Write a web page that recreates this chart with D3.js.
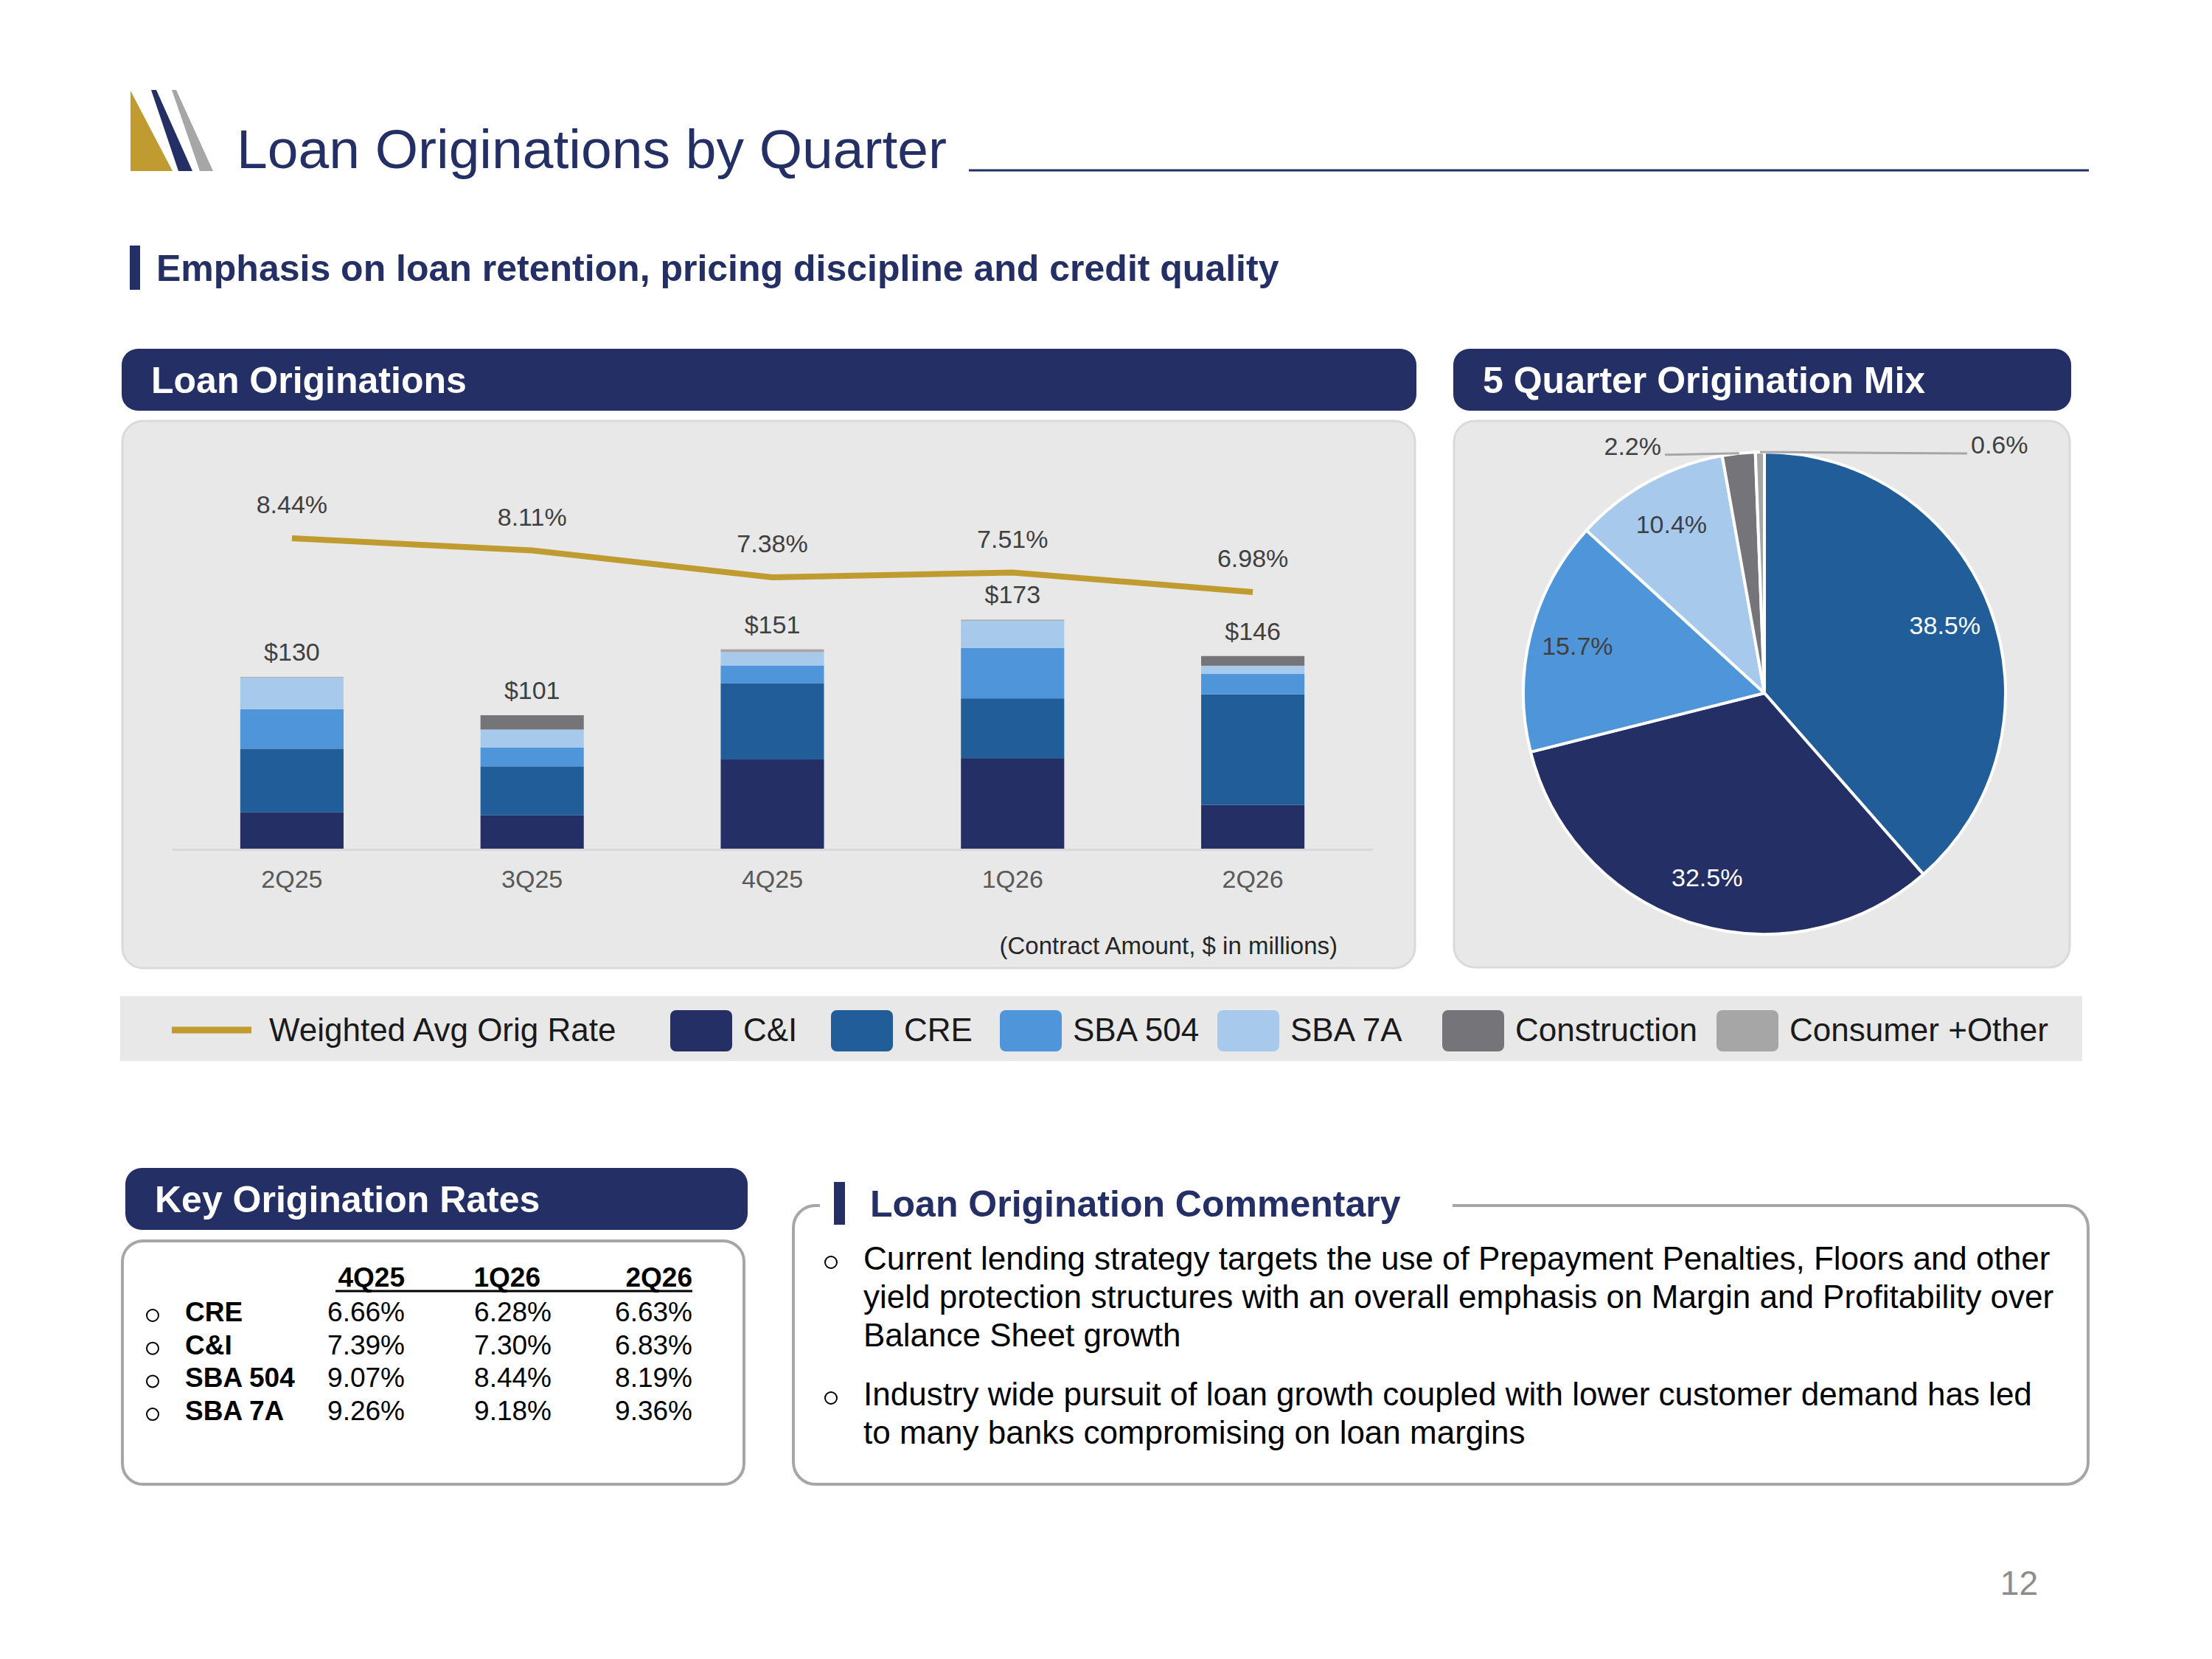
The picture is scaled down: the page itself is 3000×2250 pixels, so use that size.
<!DOCTYPE html>
<html>
<head>
<meta charset="utf-8">
<script src="https://cdn.jsdelivr.net/npm/d3@7"></script>
<style>
  body { margin: 0; background: #fff; }
  svg { display: block; font-family: "Liberation Sans", Arial, sans-serif; }
</style>
</head>
<body>
<svg id="chart" width="3000" height="2250"></svg>
<script>
// Quarterly originations, $ in millions, stacked bottom -> top
const quarters = ["2Q25", "3Q25", "4Q25", "1Q26", "2Q26"];
const ciVals = [27.9, 25.7, 67.8, 68.8, 33.6];
const creVals = [48.0, 36.9, 57.5, 45.0, 83.2];
const sba504Vals = [29.8, 14.1, 13.3, 37.9, 15.4];
const sba7aVals = [23.8, 13.6, 10.0, 20.6, 6.2];
const constructionVals = [0, 10.8, 0, 0, 7.3];
const consumerVals = [0.5, 0, 2.2, 0.8, 0];
const totals = [130, 101, 151, 173, 146];

// Weighted avg orig rate (%)
const rates = [8.44, 8.11, 7.38, 7.51, 6.98];

// 5 quarter mix (%), clockwise from 12 o'clock
const mixNames = ["CRE", "C&I", "SBA 504", "SBA 7A", "Construction", "Consumer +Other"];
const mixVals = [38.5, 32.5, 15.7, 10.4, 2.2, 0.6];

// Key origination rates table
const rateCols = ["4Q25", "1Q26", "2Q26"];
const rateRows = ["CRE", "C&I", "SBA 504", "SBA 7A"];
const rateTable = [
  ["6.66%", "6.28%", "6.63%"],
  ["7.39%", "7.30%", "6.83%"],
  ["9.07%", "8.44%", "8.19%"],
  ["9.26%", "9.18%", "9.36%"]
];

const commentary = [
  ["Current lending strategy targets the use of Prepayment Penalties, Floors and other",
   "yield protection structures with an overall emphasis on Margin and Profitability over",
   "Balance Sheet growth"],
  ["Industry wide pursuit of loan growth coupled with lower customer demand has led",
   "to many banks compromising on loan margins"]
];

const seriesKeys = ["C&I", "CRE", "SBA 504", "SBA 7A", "Construction", "Consumer +Other"];
const seriesVals = [ciVals, creVals, sba504Vals, sba7aVals, constructionVals, consumerVals];

const navy = "#242f66";
const gold = "#bf9b30";
const color = d3.scaleOrdinal()
  .domain(seriesKeys)
  .range(["#242f66", "#215e99", "#4f95d9", "#a7caec", "#747479", "#a6a6a6"]);

const svg = d3.select("#chart");
svg.append("rect").attr("width", 3000).attr("height", 2250).attr("fill", "#fff");

//Logo and title
const logo = svg.append("g");
logo.append("polygon").attr("points", "177,123 234,232 177,232").attr("fill", gold);
logo.append("polygon").attr("points", "205,122 212,122 261,232 242,232").attr("fill", navy);
logo.append("polygon").attr("points", "233,122 239,122 289,232 271,232").attr("fill", "#a6a6a6");

svg.append("text")
  .attr("x", 321).attr("y", 228)
  .attr("font-size", 75).attr("fill", navy)
  .text("Loan Originations by Quarter");

svg.append("line")
  .attr("x1", 1314).attr("x2", 2833).attr("y1", 231).attr("y2", 231)
  .attr("stroke", navy).attr("stroke-width", 3);

svg.append("rect").attr("x", 176).attr("y", 333).attr("width", 14).attr("height", 60).attr("fill", navy);
svg.append("text")
  .attr("x", 212).attr("y", 381)
  .attr("font-size", 50).attr("font-weight", "bold").attr("fill", navy)
  .text("Emphasis on loan retention, pricing discipline and credit quality");

//Section headers
function header(x, y, w, label) {
  svg.append("rect")
    .attr("x", x).attr("y", y).attr("width", w).attr("height", 84)
    .attr("rx", 22).attr("fill", navy);
  svg.append("text")
    .attr("x", x + 40).attr("y", y + 60)
    .attr("font-size", 50).attr("font-weight", "bold").attr("fill", "#fff")
    .text(label);
}
header(165, 473, 1756, "Loan Originations");
header(1971, 473, 838, "5 Quarter Origination Mix");
header(170, 1584, 844, "Key Origination Rates");

//Gray panels
svg.append("rect").attr("x", 166).attr("y", 571).attr("width", 1753).attr("height", 742)
  .attr("rx", 28).attr("fill", "#e8e8e8").attr("stroke", "#dadada").attr("stroke-width", 3);
svg.append("rect").attr("x", 1972).attr("y", 571).attr("width", 835).attr("height", 741)
  .attr("rx", 28).attr("fill", "#e8e8e8").attr("stroke", "#dadada").attr("stroke-width", 3);

//Bar chart
const baseY = 1152;
const plotTop = baseY - 450;

const x = d3.scaleBand()
  .domain(quarters)
  .range([233, 1862])
  .paddingInner(0.57)
  .paddingOuter(0.285);

const yBar = d3.scaleLinear().domain([0, 250]).range([baseY, plotTop]);
const yRate = d3.scaleLinear().domain([0, 9]).range([baseY, plotTop]);

const rows = quarters.map((q, i) => {
  const row = { quarter: q };
  seriesKeys.forEach((k, j) => { row[k] = seriesVals[j][i]; });
  return row;
});

const stacked = d3.stack().keys(seriesKeys)(rows);

const barG = svg.append("g");
barG.selectAll("g")
  .data(stacked)
  .enter()
  .append("g")
  .attr("fill", d => color(d.key))
  .selectAll("rect")
  .data(d => d)
  .enter()
  .append("rect")
  .attr("x", d => x(d.data.quarter))
  .attr("y", d => yBar(d[1]))
  .attr("width", x.bandwidth())
  .attr("height", d => yBar(d[0]) - yBar(d[1]));

const axisX = svg.append("g")
  .attr("transform", `translate(0,${baseY})`)
  .call(d3.axisBottom(x).tickSize(0).tickSizeOuter(0));
axisX.select(".domain").attr("stroke", "#d9d9d9").attr("stroke-width", 3);
axisX.selectAll("text")
  .attr("y", 52).attr("dy", null)
  .attr("font-size", 34).attr("font-family", "Liberation Sans, Arial, sans-serif")
  .attr("fill", "#595959");

// total labels
svg.append("g").selectAll("text")
  .data(quarters)
  .enter()
  .append("text")
  .attr("x", d => x(d) + x.bandwidth() / 2)
  .attr("y", (d, i) => yBar(d3.sum(seriesVals, s => s[i])) - 22)
  .attr("text-anchor", "middle")
  .attr("font-size", 34).attr("fill", "#404040")
  .text((d, i) => `$${totals[i]}`);

// rate line
const line = d3.line()
  .x((d, i) => x(quarters[i]) + x.bandwidth() / 2)
  .y(d => yRate(d));

svg.append("path")
  .datum(rates)
  .attr("d", line)
  .attr("fill", "none")
  .attr("stroke", gold)
  .attr("stroke-width", 8);

svg.append("g").selectAll("text")
  .data(rates)
  .enter()
  .append("text")
  .attr("x", (d, i) => x(quarters[i]) + x.bandwidth() / 2)
  .attr("y", d => yRate(d) - 34)
  .attr("text-anchor", "middle")
  .attr("font-size", 34).attr("fill", "#404040")
  .text(d => `${d.toFixed(2)}%`);

svg.append("text")
  .attr("x", 1814).attr("y", 1294)
  .attr("text-anchor", "end")
  .attr("font-size", 33).attr("fill", "#262626")
  .text("(Contract Amount, $ in millions)");

//Pie chart
const cx = 2393, cy = 940, radius = 327;
const pie = d3.pie().sort(null).value(d => d.value);
const arcs = pie(mixNames.map((n, i) => ({ name: n, value: mixVals[i] })));
const arc = d3.arc().innerRadius(0).outerRadius(radius);
const labelArc = d3.arc().innerRadius(radius * 0.8).outerRadius(radius * 0.8);

const pieG = svg.append("g").attr("transform", `translate(${cx},${cy})`);
pieG.selectAll("path")
  .data(arcs)
  .enter()
  .append("path")
  .attr("d", arc)
  .attr("fill", d => color(d.data.name))
  .attr("stroke", "#fff")
  .attr("stroke-width", 4)
  .attr("stroke-linejoin", "round");

const insideArcs = arcs.filter(d => d.data.value > 5);
pieG.selectAll(".inside")
  .data(insideArcs)
  .enter()
  .append("text")
  .attr("class", "inside")
  .attr("x", d => labelArc.centroid(d)[0])
  .attr("y", d => labelArc.centroid(d)[1] + 12)
  .attr("text-anchor", "middle")
  .attr("font-size", 34)
  .attr("fill", d => d.data.value > 30 ? "#fff" : "#404040")
  .text(d => `${d.data.value.toFixed(1)}%`);

// small slices: leader lines out to the side
const outsideArcs = arcs.filter(d => d.data.value <= 5);
outsideArcs.forEach((d, i) => {
  const mid = (d.startAngle + d.endAngle) / 2;
  const px = Math.sin(mid) * (radius - 6);
  const py = -Math.cos(mid) * (radius - 6) - 6;
  const left = i === 0;
  const endX = left ? -135 : 275;
  pieG.append("line")
    .attr("x1", px).attr("y1", py)
    .attr("x2", endX).attr("y2", py + 2)
    .attr("stroke", "#a6a6a6").attr("stroke-width", 3);
  pieG.append("text")
    .attr("x", left ? endX - 5 : endX + 5)
    .attr("y", py + 2)
    .attr("text-anchor", left ? "end" : "start")
    .attr("font-size", 34).attr("fill", "#404040")
    .text(`${d.data.value.toFixed(1)}%`);
});

//Legend band
svg.append("rect").attr("x", 163).attr("y", 1351).attr("width", 2661).attr("height", 88).attr("fill", "#e8e8e8");
svg.append("line").attr("x1", 233).attr("x2", 341).attr("y1", 1397).attr("y2", 1397)
  .attr("stroke", gold).attr("stroke-width", 9);
svg.append("text").attr("x", 365).attr("y", 1412)
  .attr("font-size", 44).attr("fill", "#1a1a1a")
  .text("Weighted Avg Orig Rate");

const legendX = [909, 1127, 1356, 1651, 1956, 2328];
const legendG = svg.append("g").selectAll("g")
  .data(seriesKeys)
  .enter()
  .append("g")
  .attr("transform", (d, i) => `translate(${legendX[i]},0)`);
legendG.append("rect")
  .attr("y", 1370).attr("width", 84).attr("height", 56).attr("rx", 8)
  .attr("fill", d => color(d));
legendG.append("text")
  .attr("x", 99).attr("y", 1412)
  .attr("font-size", 44).attr("fill", "#1a1a1a")
  .text(d => d);

//Key origination rates box
svg.append("rect").attr("x", 166).attr("y", 1683).attr("width", 843).attr("height", 330)
  .attr("rx", 28).attr("fill", "#fff").attr("stroke", "#a6a6a6").attr("stroke-width", 4);

const colRight = [549, 748, 939];
const headRight = [549, 733, 939];
svg.append("g").selectAll("text")
  .data(rateCols)
  .enter()
  .append("text")
  .attr("x", (d, i) => headRight[i]).attr("y", 1745)
  .attr("text-anchor", "end")
  .attr("font-size", 37).attr("font-weight", "bold").attr("fill", "#000")
  .text(d => d);
svg.append("line").attr("x1", 455).attr("x2", 939).attr("y1", 1751).attr("y2", 1751)
  .attr("stroke", "#000").attr("stroke-width", 3);

const rowG = svg.append("g").selectAll("g")
  .data(rateRows)
  .enter()
  .append("g")
  .attr("transform", (d, i) => `translate(0,${1792 + i * 44.7})`);
rowG.append("circle").attr("cx", 207).attr("cy", -8).attr("r", 8)
  .attr("fill", "none").attr("stroke", "#000").attr("stroke-width", 2);
rowG.append("text").attr("x", 251)
  .attr("font-size", 37).attr("font-weight", "bold").attr("fill", "#000")
  .text(d => d);
rowG.selectAll(".val")
  .data((d, i) => rateTable[i])
  .enter()
  .append("text")
  .attr("class", "val")
  .attr("x", (d, j) => colRight[j])
  .attr("text-anchor", "end")
  .attr("font-size", 37).attr("fill", "#000")
  .text(d => d);

//Commentary box (top edge broken by the title)
const bx0 = 1076, by0 = 1635, bx1 = 2832, by1 = 2013, br = 30;
svg.append("path")
  .attr("d", `M1970,${by0} L${bx1 - br},${by0} A${br},${br} 0 0 1 ${bx1},${by0 + br}
    L${bx1},${by1 - br} A${br},${br} 0 0 1 ${bx1 - br},${by1}
    L${bx0 + br},${by1} A${br},${br} 0 0 1 ${bx0},${by1 - br}
    L${bx0},${by0 + br} A${br},${br} 0 0 1 ${bx0 + br},${by0} L${bx0 + br + 6},${by0}`)
  .attr("fill", "#fff").attr("stroke", "#a6a6a6").attr("stroke-width", 4);

svg.append("rect").attr("x", 1131).attr("y", 1603).attr("width", 15).attr("height", 58).attr("fill", navy);
svg.append("text").attr("x", 1180).attr("y", 1650)
  .attr("font-size", 50).attr("font-weight", "bold").attr("fill", navy)
  .text("Loan Origination Commentary");

const bulletTop = [1722, 1906];
commentary.forEach((lines, b) => {
  svg.append("circle").attr("cx", 1127).attr("cy", bulletTop[b] - 10).attr("r", 8)
    .attr("fill", "none").attr("stroke", "#000").attr("stroke-width", 2);
  svg.append("g").selectAll("text")
    .data(lines)
    .enter()
    .append("text")
    .attr("x", 1171)
    .attr("y", (d, i) => bulletTop[b] + i * 52)
    .attr("font-size", 44).attr("fill", "#000")
    .text(d => d);
});

svg.append("text").attr("x", 2764).attr("y", 2163)
  .attr("text-anchor", "end")
  .attr("font-size", 46).attr("fill", "#8c8c8c")
  .text("12");
</script>
</body>
</html>
